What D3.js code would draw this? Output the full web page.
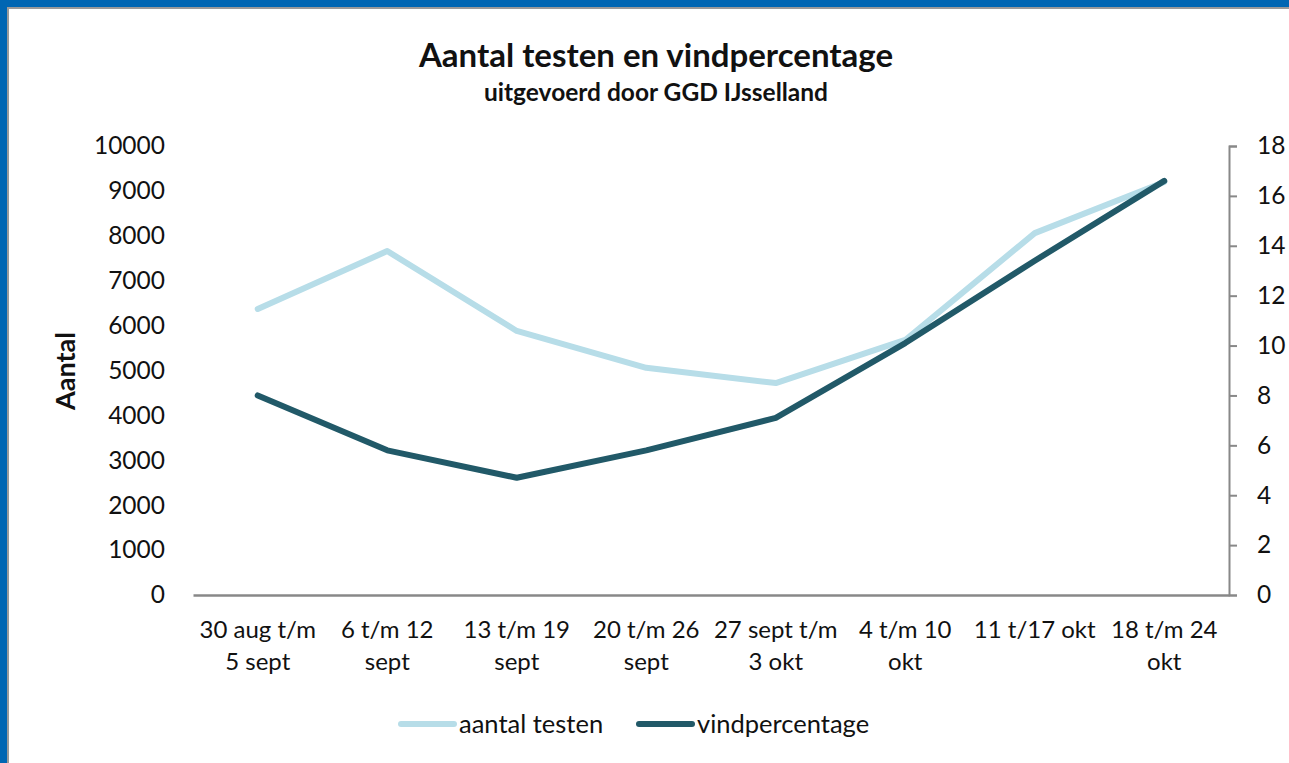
<!DOCTYPE html>
<html>
<head>
<meta charset="utf-8">
<script src="https://cdn.jsdelivr.net/npm/d3@7"></script>
<style>
  body { margin: 0; background: #ffffff; overflow: hidden; }
  text { font-family: Lato, "Open Sans", sans-serif; fill: #111111; }
</style>
</head>
<body>
<div id="chart"></div>
<script>
// Data
var weeks = [
    ["30 aug t/m", "5 sept"],
    ["6 t/m 12", "sept"],
    ["13 t/m 19", "sept"],
    ["20 t/m 26", "sept"],
    ["27 sept t/m", "3 okt"],
    ["4 t/m 10", "okt"],
    ["11 t/17 okt", ""],
    ["18 t/m 24", "okt"]
];
var aantalTesten = [6370, 7660, 5880, 5060, 4720, 5680, 8060, 9200];
var vindpercentage = [8.0, 5.8, 4.7, 5.8, 7.1, 10.1, 13.4, 16.6];
var leftTicks = [0, 1000, 2000, 3000, 4000, 5000, 6000, 7000, 8000, 9000, 10000];
var rightTicks = [0, 2, 4, 6, 8, 10, 12, 14, 16, 18];

var svgWidth = 1289;
var svgHeight = 763;

var margin = { top: 146, right: 60, bottom: 168, left: 193 };
var chartWidth = 1229 - margin.left;
var chartHeight = svgHeight - margin.top - margin.bottom;

var svg = d3.select("#chart")
    .append("svg")
    .attr("width", svgWidth)
    .attr("height", svgHeight);

// frame
svg.append("rect").attr("x", 0).attr("y", 0).attr("width", svgWidth).attr("height", svgHeight).attr("fill", "#0066b3");
svg.append("rect").attr("x", 7).attr("y", 7).attr("width", svgWidth).attr("height", svgHeight).attr("fill", "#9a9a9a");
svg.append("rect").attr("x", 9).attr("y", 9).attr("width", svgWidth).attr("height", svgHeight).attr("fill", "#ffffff");

// titles
svg.append("text")
    .attr("x", 656).attr("y", 67)
    .attr("text-anchor", "middle")
    .style("font-size", "33px").style("font-weight", "bold")
    .text("Aantal testen en vindpercentage");
svg.append("text")
    .attr("x", 656).attr("y", 101)
    .attr("text-anchor", "middle")
    .style("font-size", "24.5px").style("font-weight", "bold")
    .text("uitgevoerd door GGD IJsselland");

var chartGroup = svg.append("g")
    .attr("transform", `translate(${margin.left}, ${margin.top})`);

var xScale = d3.scaleBand()
    .domain(d3.range(weeks.length))
    .range([0, chartWidth]);

var yLeft = d3.scaleLinear().domain([0, 10000]).range([chartHeight, 0]);
var yRight = d3.scaleLinear().domain([0, 18]).range([chartHeight, 0]);

// left axis (labels only)
var leftAxis = d3.axisLeft(yLeft).tickValues(leftTicks).tickSize(0).tickPadding(28).tickFormat(d3.format("d"));
var gLeft = chartGroup.append("g").call(leftAxis);
gLeft.select(".domain").remove();
gLeft.selectAll("text").style("font-size", "24.5px").style("font-family", "Lato, sans-serif").attr("fill", "#111111");

// right axis
var rightAxis = d3.axisRight(yRight).tickValues(rightTicks).tickSize(8).tickPadding(20).tickSizeOuter(8);
var gRight = chartGroup.append("g")
    .attr("transform", `translate(${chartWidth}, 0)`)
    .call(rightAxis);
gRight.select(".domain").attr("stroke", "#888888").attr("stroke-width", 2);
gRight.selectAll(".tick line").attr("stroke", "#888888").attr("stroke-width", 2);
gRight.selectAll("text").style("font-size", "24.5px").style("font-family", "Lato, sans-serif").attr("fill", "#111111");

// x axis
var bottomAxis = d3.axisBottom(xScale).tickSize(0).tickFormat("");
var gBottom = chartGroup.append("g")
    .attr("transform", `translate(0, ${chartHeight})`)
    .call(bottomAxis);
gBottom.select(".domain").attr("stroke", "#888888").attr("stroke-width", 2.5);

var xLabels = chartGroup.append("g").selectAll("text")
    .data(weeks)
    .join("text")
    .attr("x", (d, i) => xScale(i) + xScale.bandwidth() / 2)
    .attr("y", chartHeight + 43)
    .attr("text-anchor", "middle")
    .style("font-size", "24px");
xLabels.append("tspan").text(d => d[0]);
xLabels.append("tspan")
    .attr("x", (d, i) => xScale(i) + xScale.bandwidth() / 2)
    .attr("dy", 32)
    .text(d => d[1]);

// y axis title
svg.append("text")
    .attr("transform", "translate(75, 371) rotate(-90)")
    .attr("text-anchor", "middle")
    .style("font-size", "27px").style("font-weight", "bold")
    .text("Aantal");

// lines
var lineLeft = d3.line()
    .x((d, i) => xScale(i) + xScale.bandwidth() / 2)
    .y(d => yLeft(d));
var lineRight = d3.line()
    .x((d, i) => xScale(i) + xScale.bandwidth() / 2)
    .y(d => yRight(d));

chartGroup.append("path")
    .datum(aantalTesten)
    .attr("d", lineLeft)
    .attr("fill", "none")
    .attr("stroke", "#b7dde8")
    .attr("stroke-width", 6)
    .attr("stroke-linecap", "round")
    .attr("stroke-linejoin", "round");

chartGroup.append("path")
    .datum(vindpercentage)
    .attr("d", lineRight)
    .attr("fill", "none")
    .attr("stroke", "#215968")
    .attr("stroke-width", 6)
    .attr("stroke-linecap", "round")
    .attr("stroke-linejoin", "round");

// legend
var legendItems = [
    { label: "aantal testen", color: "#b7dde8", x: 401 },
    { label: "vindpercentage", color: "#215968", x: 639 }
];
var legend = svg.append("g").selectAll("g")
    .data(legendItems)
    .join("g")
    .attr("transform", d => `translate(${d.x}, 724)`);
legend.append("line")
    .attr("x1", 0).attr("x2", 53)
    .attr("stroke", d => d.color)
    .attr("stroke-width", 6)
    .attr("stroke-linecap", "round");
legend.append("text")
    .attr("x", 58).attr("y", 9)
    .style("font-size", "25.5px")
    .text(d => d.label);
</script>
</body>
</html>
